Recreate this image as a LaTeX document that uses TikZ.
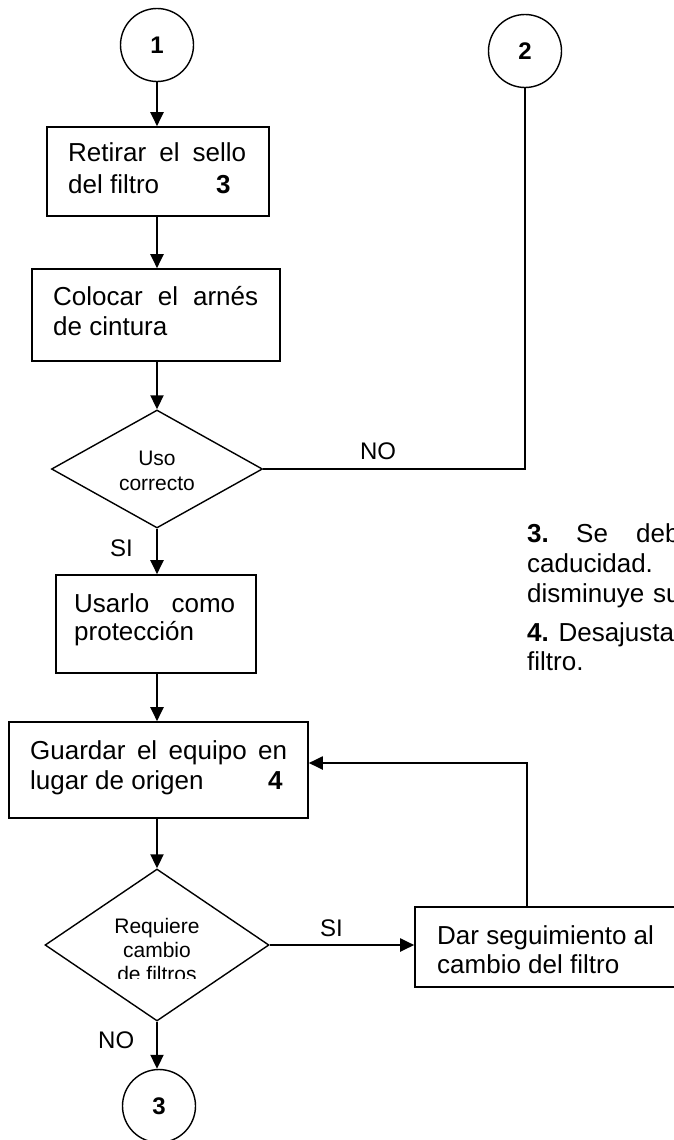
\documentclass[tikz,border=0pt]{standalone}
\usepackage{fontspec}
\setmainfont{Liberation Sans}
\usetikzlibrary{shapes.geometric,arrows.meta}
\begin{document}
\begin{tikzpicture}[x=1pt,y=-1pt,
  box/.style={draw,line width=1.6pt,rectangle,inner sep=0pt},
  dia/.style={draw,line width=1.4pt,diamond,inner sep=0pt},
  conn/.style={draw,line width=1.4pt,circle,inner sep=0pt,minimum size=73pt,font=\fontsize{24}{28}\selectfont\bfseries},
  txt/.style={anchor=base west,inner sep=0pt,font=\fontsize{26}{30}\selectfont},
  small/.style={anchor=base,inner sep=0pt,font=\fontsize{21}{24}\selectfont},
  lbl/.style={anchor=base west,inner sep=0pt,font=\fontsize{24}{28}\selectfont},
  arr/.style={line width=2pt,-{Triangle[length=14pt,width=13pt]}},
  ln/.style={line width=2pt}]
\useasboundingbox (0,0) rectangle (673,1140);

% connectors (circles)
\node[conn] (c1) at (157,45) {1};
\node[conn] (c2) at (525,51) {2};
\node[conn] (c3) at (159,1106) {3};

% boxes
\node[box,minimum width=222pt,minimum height=89pt] (b1) at (158,171.5) {};
\node[box,minimum width=248pt,minimum height=92pt] (b2) at (156,315) {};
\node[box,minimum width=200pt,minimum height=98pt] (b3) at (156,624) {};
\node[box,minimum width=299pt,minimum height=96pt] (b5) at (158.5,770) {};
\node[box,minimum width=305pt,minimum height=80pt] (b6) at (567.5,947) {};

% decisions
\node[dia,minimum width=211pt,minimum height=118pt] (d1) at (157,469) {};
\node[dia,minimum width=224pt,minimum height=152pt] (d2) at (157,945) {};

% box texts
\node[txt] (t1a) at (68,161) {\makebox[178pt][s]{Retirar el sello}};
\node[txt] (t1b) at (68,193) {del filtro};
\node[txt] (t1c) at (216,193) {\textbf{3}};
\node[txt] (t2a) at (53,305) {\makebox[205pt][s]{Colocar el arnés}};
\node[txt] (t2b) at (53,335) {de cintura};
\node[small] (t3a) at (157,465) {Uso};
\node[small] (t3b) at (157,490) {correcto};
\node[txt] (t4a) at (74,612) {\makebox[161pt][s]{Usarlo como}};
\node[txt] (t4b) at (74,640) {protección};
\node[txt] (t5a) at (30,759) {\makebox[257pt][s]{Guardar el equipo en}};
\node[txt] (t5b) at (30,789) {lugar de origen};
\node[txt] (t5c) at (268,789) {\textbf{4}};
\begin{scope}
  \clip (90,895) rectangle (225,978);
  \node[small] (t6a) at (157,933) {Requiere};
  \node[small] (t6b) at (157,957) {cambio};
  \node[small] (t6c) at (157,981) {de filtros};
\end{scope}
\node[txt] (t7a) at (437,944) {Dar seguimiento al};
\node[txt] (t7b) at (437,973) {cambio del filtro};

% branch labels
\node[lbl,anchor=base] (lno1) at (378,459) {NO};
\node[lbl] (lsi1) at (110,556) {SI};
\node[lbl] (lsi2) at (320,936) {SI};
\node[lbl] (lno2) at (98,1048) {NO};

% side notes (cut at the right edge)
\node[txt] (n1a) at (527,542) {\textbf{3.}};
\node[txt] (n1b) at (576,542) {Se};
\node[txt] (n1c) at (636,542) {debe};
\node[txt] (n2) at (527,572) {caducidad.};
\node[txt] (n3a) at (527,602) {disminuye};
\node[txt] (n3b) at (653,602) {su};
\node[txt] (n4) at (527,641) {\textbf{4.} Desajusta};
\node[txt] (n5) at (527,670) {filtro.};

% connectors
\draw[arr] (c1.south) -- (c1.south |- b1.north);
\draw[arr] (b1.south -| c1) -- (b2.north -| c1);
\draw[arr] (b2.south -| d1.north) -- (d1.north);
\draw[ln] (d1.east) -- (d1.east -| c2.south) -- (c2.south);
\draw[arr] (d1.south) -- (d1.south |- b3.north);
\draw[arr] (b3.south -| d1.south) -- (b5.north -| d1.south);
\draw[arr] (b5.south -| d2.north) -- (d2.north);
\draw[arr] (d2.east) -- (d2.east -| b6.west);
\draw[arr] (d2.south) -- (c3.north -| d2.south);
\coordinate (fb) at (527,763);
\draw[arr] (b6.north -| fb) -- (fb) -- (fb -| b5.east);
\end{tikzpicture}
\end{document}
